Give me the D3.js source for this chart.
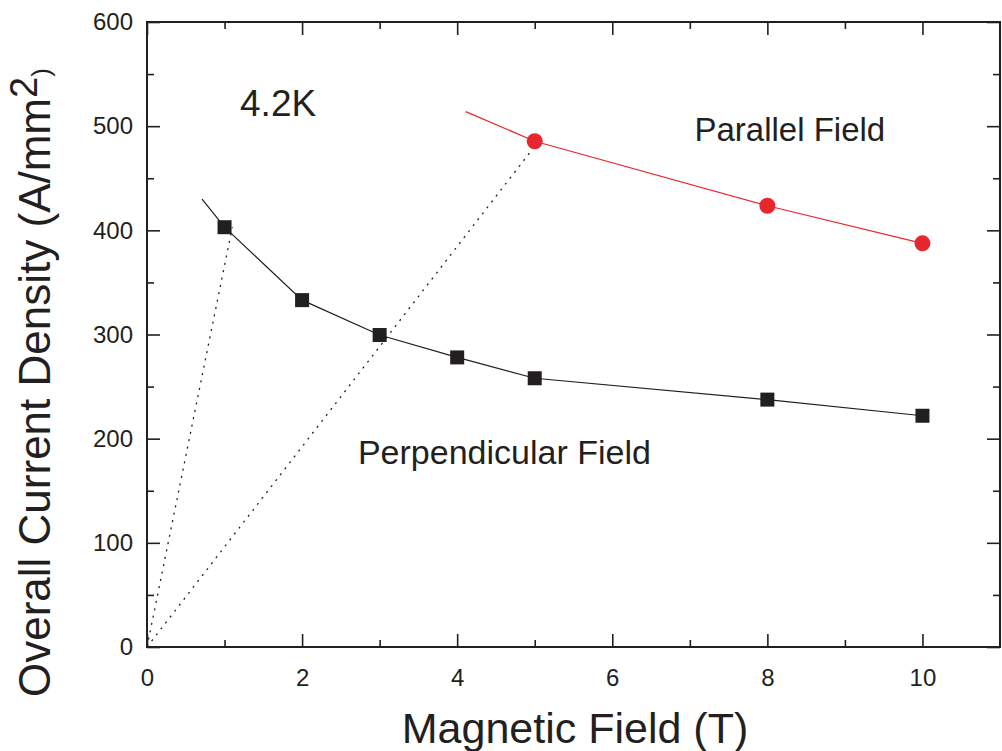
<!DOCTYPE html>
<html>
<head>
<meta charset="utf-8">
<script src="https://cdn.jsdelivr.net/npm/d3@7/dist/d3.min.js"></script>
<style>
  html, body { margin: 0; padding: 0; background: #fff; }
  svg { display: block; font-family: "Liberation Sans", Arial, Helvetica, sans-serif; }
</style>
</head>
<body>
<svg id="chart" width="1002" height="751"></svg>
<script>
// ---- data ----
const perpField = [1, 2, 3, 4, 5, 8, 10];
const perpJc    = [403, 333, 299.5, 278, 258, 237.5, 222];
const perpLead  = [0.71, 430];      // start of the fitted line segment
const paraField = [5, 8, 10];
const paraJc    = [485.5, 423.6, 387.5];
const paraLead  = [4.11, 514];
const loadLines = [
  [[0, 0], [1.1, 403]],
  [[0, 0], [5.05, 485.5]]
];
const xMajorTicks = [0, 2, 4, 6, 8, 10];
const xMinorTicks = [1, 3, 5, 7, 9];
const yMajorTicks = [0, 100, 200, 300, 400, 500, 600];
const yMinorTicks = [50, 150, 250, 350, 450, 550];
const xTitle = "Magnetic Field (T)";
const yTitle = "Overall Current Density (A/mm";
const annotations = [
  { text: "4.2K", x: 1.2, y: 510, size: 37 },
  { text: "Parallel Field", x: 7.06, y: 486, size: 33 },
  { text: "Perpendicular Field", x: 2.72, y: 176, size: 34 }
];

// ---- layout ----
const svg = d3.select("#chart");
const L = 147, R = 1000, T = 22, B = 647;
const x = d3.scaleLinear().domain([0, 11]).range([L, R]);
const y = d3.scaleLinear().domain([0, 600]).range([B, T]);
const ink = "#231f20";
const red = "#e8262d";

// axes (inward ticks on all four sides)
function styleAxis(g) {
  g.select(".domain").remove();
  g.selectAll(".tick line").attr("stroke", ink).attr("stroke-width", 1.6);
  g.selectAll("text").attr("fill", ink).attr("font-size", 24)
    .attr("font-family", "'Liberation Sans', Arial, sans-serif");
}
svg.append("g").attr("transform", `translate(0,${B})`)
  .call(d3.axisBottom(x).tickValues(xMajorTicks).tickSize(-13).tickPadding(22).tickFormat(d3.format("d")))
  .call(styleAxis);
svg.append("g").attr("transform", `translate(0,${B})`)
  .call(d3.axisBottom(x).tickValues(xMinorTicks).tickSize(-7).tickFormat(""))
  .call(styleAxis);
svg.append("g").attr("transform", `translate(0,${T})`)
  .call(d3.axisTop(x).tickValues(xMajorTicks).tickSize(-13).tickFormat(""))
  .call(styleAxis);
svg.append("g").attr("transform", `translate(0,${T})`)
  .call(d3.axisTop(x).tickValues(xMinorTicks).tickSize(-7).tickFormat(""))
  .call(styleAxis);
svg.append("g").attr("transform", `translate(${L},0)`)
  .call(d3.axisLeft(y).tickValues(yMajorTicks).tickSize(-13).tickPadding(14).tickFormat(d3.format("d")))
  .call(styleAxis);
svg.append("g").attr("transform", `translate(${L},0)`)
  .call(d3.axisLeft(y).tickValues(yMinorTicks).tickSize(-7).tickFormat(""))
  .call(styleAxis);
svg.append("g").attr("transform", `translate(${R},0)`)
  .call(d3.axisRight(y).tickValues(yMajorTicks).tickSize(-13).tickFormat(""))
  .call(styleAxis);
svg.append("g").attr("transform", `translate(${R},0)`)
  .call(d3.axisRight(y).tickValues(yMinorTicks).tickSize(-7).tickFormat(""))
  .call(styleAxis);

// frame
svg.append("rect").attr("x", L).attr("y", T).attr("width", R - L).attr("height", B - T)
  .attr("fill", "none").attr("stroke", ink).attr("stroke-width", 2);

// load lines (dotted)
const line = d3.line().x(d => x(d[0])).y(d => y(d[1]));
svg.selectAll(".load").data(loadLines).enter().append("path")
  .attr("d", line).attr("fill", "none").attr("stroke", ink)
  .attr("stroke-width", 1.3).attr("stroke-dasharray", "2,5.5");

// perpendicular
const perpPts = [perpLead].concat(perpField.map((f, i) => [f, perpJc[i]]));
svg.append("path").attr("d", line(perpPts)).attr("fill", "none")
  .attr("stroke", ink).attr("stroke-width", 1.2);
svg.selectAll(".sq").data(perpField.map((f, i) => [f, perpJc[i]])).enter().append("rect")
  .attr("x", d => x(d[0]) - 7).attr("y", d => y(d[1]) - 7)
  .attr("width", 14).attr("height", 14).attr("fill", ink);

// parallel
const paraPts = [paraLead].concat(paraField.map((f, i) => [f, paraJc[i]]));
svg.append("path").attr("d", line(paraPts)).attr("fill", "none")
  .attr("stroke", red).attr("stroke-width", 1.2);
svg.selectAll(".ci").data(paraField.map((f, i) => [f, paraJc[i]])).enter().append("circle")
  .attr("cx", d => x(d[0])).attr("cy", d => y(d[1])).attr("r", 8).attr("fill", red);

// annotations
svg.selectAll(".ann").data(annotations).enter().append("text")
  .attr("x", d => x(d.x)).attr("y", d => y(d.y))
  .attr("font-size", d => d.size).attr("fill", ink).text(d => d.text);

// axis titles
svg.append("text").attr("x", 575).attr("y", 743).attr("text-anchor", "middle")
  .attr("font-size", 43).attr("fill", ink).text(xTitle);
const yt = svg.append("text").attr("transform", "translate(50,697) rotate(-90)")
  .attr("font-size", 44).attr("fill", ink);
yt.append("tspan").text(yTitle);
yt.append("tspan").attr("font-size", 38).attr("dy", -13).text("2");
yt.append("tspan").attr("font-size", 26).attr("dy", 13).text(")");
</script>
</body>
</html>
